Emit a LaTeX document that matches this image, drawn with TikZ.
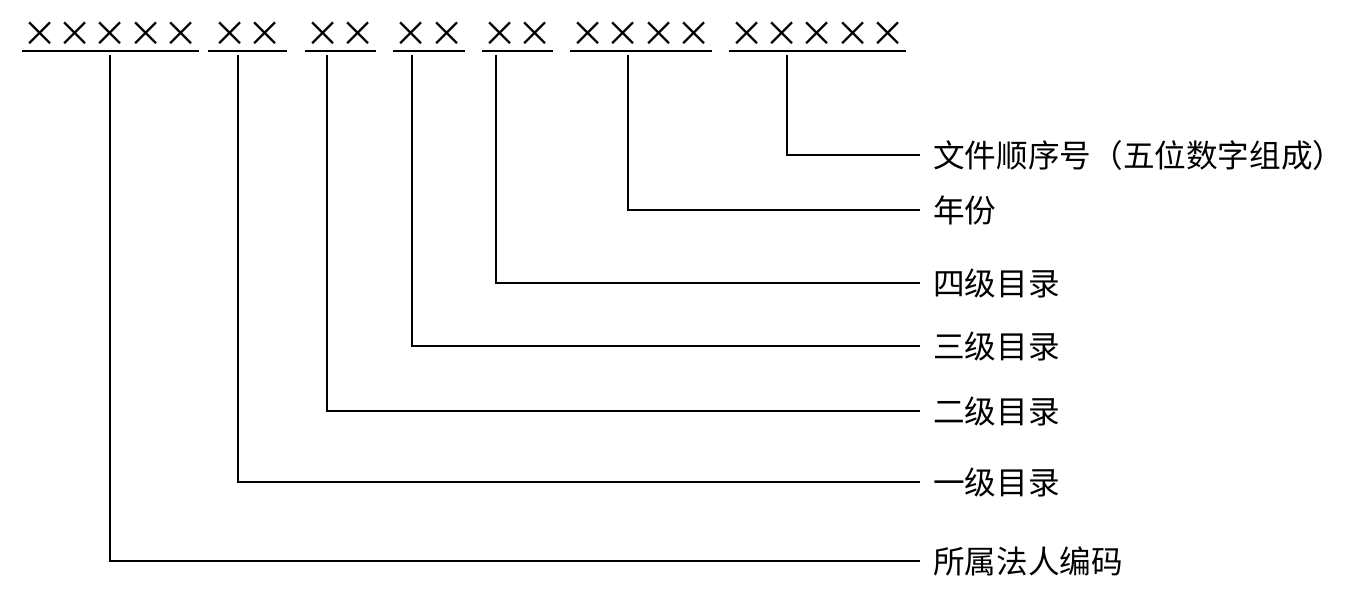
\documentclass[tikz,border=0pt]{standalone}
\usepackage{fontspec}
\setmainfont{Noto Sans CJK SC}
\newfontfamily\crossfont[RawFeature=+fwid]{Noto Sans CJK SC}
\usetikzlibrary{positioning,calc}
\tikzset{
  code/.style={font=\crossfont\fontsize{20pt}{20pt}\selectfont,inner sep=0pt,anchor=center},
  uline/.style={line width=1.1pt},
  lead/.style={line width=1.1pt},
  part/.style={anchor=west,inner ysep=0pt,inner xsep=0.26cm,font=\fontsize{18pt}{18pt}\selectfont}
}

\begin{document}
\begin{tikzpicture}[x=0.02cm,y=-0.02cm]
\useasboundingbox (0,0) rectangle (1370,598);

% code groups
\node[code, minimum width=3.54cm] (corp) at (110.5,34) {×××××};
\node[code, minimum width=1.58cm] (lvone) at (247.5,34) {××};
\node[code, minimum width=1.42cm] (lvtwo) at (340.5,34) {××};
\node[code, minimum width=1.44cm] (lvthree) at (429,34) {××};
\node[code, minimum width=1.42cm] (lvfour) at (517.5,34) {××};
\node[code, minimum width=2.84cm] (year) at (641,34) {××××};
\node[code, minimum width=3.54cm] (serial) at (817.5,34) {×××××};

\foreach \g in {corp,lvone,lvtwo,lvthree,lvfour,year,serial}
  \draw[uline] ($(\g.west)+(0,17)$) -- ($(\g.east)+(0,17)$);

% meanings
\node[part] (serialtxt) at (920,155) {文件顺序号（五位数字组成）};
\node[part] (yeartxt) at (920,210) {年份};
\node[part] (lvfourtxt) at (920,283) {四级目录};
\node[part] (lvthreetxt) at (920,346) {三级目录};
\node[part] (lvtwotxt) at (920,411) {二级目录};
\node[part] (lvonetxt) at (920,482) {一级目录};
\node[part] (corptxt) at (920,561) {所属法人编码};

\coordinate (corptap) at (110,55);
\coordinate (lvonetap) at (238,55);
\coordinate (lvtwotap) at (327,55);
\coordinate (lvthreetap) at (412,55);
\coordinate (lvfourtap) at (496,55);
\coordinate (yeartap) at (628,55);
\coordinate (serialtap) at (787,55);

\draw[lead] (serialtap) |- (serialtxt.west);
\draw[lead] (yeartap) |- (yeartxt.west);
\draw[lead] (lvfourtap) |- (lvfourtxt.west);
\draw[lead] (lvthreetap) |- (lvthreetxt.west);
\draw[lead] (lvtwotap) |- (lvtwotxt.west);
\draw[lead] (lvonetap) |- (lvonetxt.west);
\draw[lead] (corptap) |- (corptxt.west);

\end{tikzpicture}
\end{document}
